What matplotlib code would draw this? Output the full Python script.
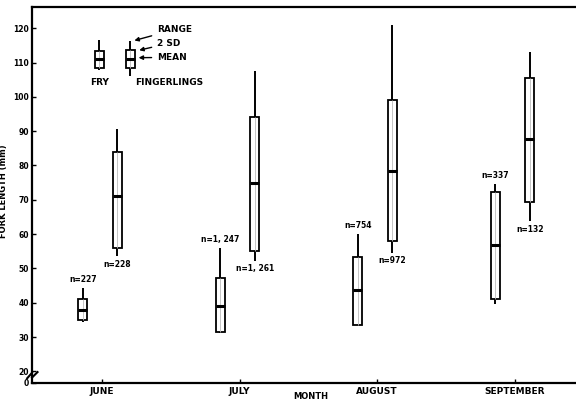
import numpy as np
import matplotlib
matplotlib.use("Agg")
import matplotlib.pyplot as plt

months = ['JUNE', 'JULY', 'AUGUST', 'SEPTEMBER']

# fry (mm)
fry_min = [34.3, 31.3, 33.5, 39.6]
fry_lo = [35.0, 31.5, 33.6, 41.2]
fry_mean = [38.0, 39.1, 43.7, 56.7]
fry_hi = [41.1, 47.2, 53.3, 72.2]
fry_max = [44.2, 56.0, 60.0, 74.6]
fry_n = ['n=227', 'n=1, 247', 'n=754', 'n=337']

# fingerlings (mm)
fing_min = [53.6, 52.2, 54.6, 63.7]
fing_lo = [56.0, 55.1, 58.0, 69.3]
fing_mean = [71.0, 75.0, 78.5, 87.6]
fing_hi = [84.0, 94.0, 99.0, 105.4]
fing_max = [90.7, 107.4, 121.0, 113.2]
fing_n = ['n=228', 'n=1, 261', 'n=972', 'n=132']

# legend key boxes: fry, fingerlings
key_min = [107.7, 106.2]
key_lo = [108.3, 108.3]
key_mean = [111.0, 111.0]
key_hi = [113.4, 113.7]
key_max = [116.5, 116.2]

plt.rcParams['font.family'] = 'DejaVu Sans'
plt.rcParams['font.weight'] = 'bold'
plt.rcParams['axes.labelweight'] = 'bold'

fig = plt.figure(figsize=(5.76, 4.01), dpi=100)
ax = fig.add_axes([0.0556, 0.0456, 0.95, 0.938])

x = np.arange(1, len(months) + 1)
w = 0.066


def draw_boxes(xs, mn, lo, mid, hi, mx):
    ax.vlines(xs, mn, mx, color='black', lw=1.4, zorder=1)
    ax.bar(xs, np.array(hi) - np.array(lo), bottom=lo, width=w,
           color='white', edgecolor='black', lw=1.3, zorder=2)
    ax.vlines(xs, lo, hi, color='#bbbbbb', lw=0.6, zorder=3)
    for xi, m in zip(xs, mid):
        ax.hlines(m, xi - w / 2, xi + w / 2, color='black', lw=2.2, zorder=4)


fry_x = x - 0.14
fing_x = x + 0.11
draw_boxes(fry_x, fry_min, fry_lo, fry_mean, fry_hi, fry_max)
draw_boxes(fing_x, fing_min, fing_lo, fing_mean, fing_hi, fing_max)

for xi, top, lab in zip(fry_x, fry_max, fry_n):
    ax.text(xi, top + 1.2, lab, ha='center', va='bottom', fontsize=5.5)
for xi, bot, lab in zip(fing_x, fing_min, fing_n):
    ax.text(xi, bot - 1.0, lab, ha='center', va='top', fontsize=5.5)

# key
key_x = np.array([0.98, 1.205])
draw_boxes(key_x, key_min, key_lo, key_mean, key_hi, key_max)
ax.text(0.98, 104.3, 'FRY', ha='center', va='center', fontsize=6.5)
ax.text(1.484, 104.3, 'FINGERLINGS', ha='center', va='center', fontsize=6.5)
arrow = dict(arrowstyle='-|>', color='black', lw=1.0, mutation_scale=6)
ax.annotate('RANGE', xy=(1.215, 116.2), xytext=(1.40, 119.6),
            fontsize=6.5, va='center', arrowprops=arrow)
ax.annotate('2 SD', xy=(1.25, 113.4), xytext=(1.40, 115.6),
            fontsize=6.5, va='center', arrowprops=arrow)
ax.annotate('MEAN', xy=(1.245, 111.4), xytext=(1.40, 111.5),
            fontsize=6.5, va='center', arrowprops=arrow)

ax.set_xlim(0.49, 4.47)
ax.set_ylim(16.7, 126.3)
ax.set_xticks(x)
ax.set_xticklabels(months, fontsize=6.5)
ax.set_yticks([16.7] + list(range(20, 121, 10)))
ax.set_yticklabels(['0'] + [str(v) for v in range(20, 121, 10)], fontsize=5.5)
ax.tick_params(axis='x', direction='in', length=3, width=1, pad=3)
ax.tick_params(axis='y', direction='in', length=3, width=1, pad=2)
for s in ax.spines.values():
    s.set_linewidth(1.6)
ax.spines['right'].set_visible(False)

# axis break mark
ax.plot([0.49, 0.53], [18.2, 19.8], color='black', lw=1.5, clip_on=False)
ax.plot([0.455, 0.49], [18.0, 19.6], color='black', lw=1.5, clip_on=False)

ax.set_ylabel('FORK LENGTH (mm)', fontsize=6)
ax.yaxis.set_label_coords(-0.043, 0.51)
fig.text(0.54, 0.0, 'MONTH', ha='center', va='bottom', fontsize=6)

fig.savefig('out.png', dpi=100)
